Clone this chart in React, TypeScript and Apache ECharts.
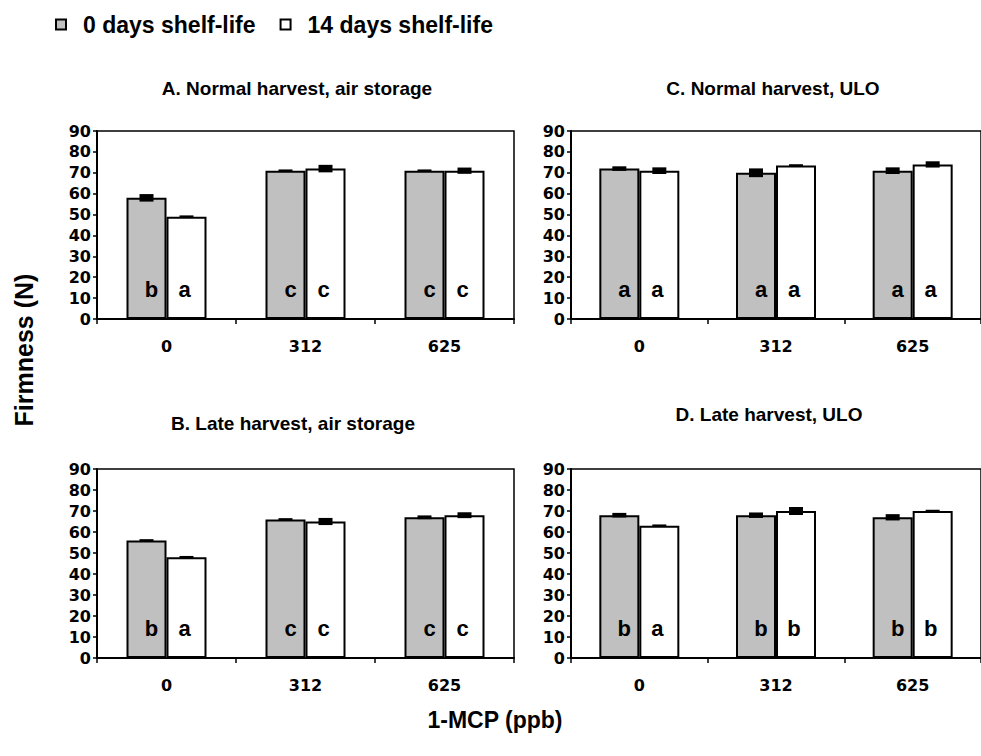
import React, { useEffect, useRef } from "react";
import * as echarts from "echarts";

const categories = ["0", "312", "625"];
const seriesNames = ["0 days shelf-life", "14 days shelf-life"];
const panelTitles = [
  "A. Normal harvest, air storage",
  "B. Late harvest, air storage",
  "C. Normal harvest, ULO",
  "D. Late harvest, ULO",
];
const yTicks = { min: 0, max: 90, interval: 10 };

// Firmness (N), values per panel
const aDay0 = [58, 71, 71];
const aDay14 = [49, 72, 71];
const bDay0 = [56, 66, 67];
const bDay14 = [48, 65, 68];
const cDay0 = [72, 70, 71];
const cDay14 = [71, 73.5, 74];
const dDay0 = [68, 68, 67];
const dDay14 = [63, 70, 70];

// standard errors
const aErr0 = [1.8, 0.3, 0.3];
const aErr14 = [0.3, 1.8, 1.5];
const bErr0 = [0.3, 0.3, 0.9];
const bErr14 = [0.3, 1.7, 1.4];
const cErr0 = [1.1, 2.1, 1.6];
const cErr14 = [1.6, 0.3, 1.5];
const dErr0 = [1.1, 1.3, 1.5];
const dErr14 = [0.3, 1.9, 0.2];

// significance letters
const aLet0 = ["b", "c", "c"];
const aLet14 = ["a", "c", "c"];
const bLet0 = ["b", "c", "c"];
const bLet14 = ["a", "c", "c"];
const cLet0 = ["a", "a", "a"];
const cLet14 = ["a", "a", "a"];
const dLet0 = ["b", "b", "b"];
const dLet14 = ["a", "b", "b"];

const xAxisTitle = "1-MCP (ppb)";
const yAxisTitle = "Firmness (N)";

const FONT = "'Liberation Sans', Arial, Helvetica, sans-serif";
const TICK_FONT = "'DejaVu Sans', 'Liberation Sans', Arial, sans-serif";

const panels = [
  { day0: aDay0, day14: aDay14, e0: aErr0, e14: aErr14, l0: aLet0, l14: aLet14 },
  { day0: bDay0, day14: bDay14, e0: bErr0, e14: bErr14, l0: bLet0, l14: bLet14 },
  { day0: cDay0, day14: cDay14, e0: cErr0, e14: cErr14, l0: cLet0, l14: cLet14 },
  { day0: dDay0, day14: dDay14, e0: dErr0, e14: dErr14, l0: dLet0, l14: dLet14 },
];

const grids = [
  { left: 97, top: 131, width: 417, height: 188 },
  { left: 97, top: 469, width: 417, height: 189 },
  { left: 571, top: 131, width: 418, height: 188 },
  { left: 571, top: 469, width: 418, height: 189 },
];
const titlePos = [
  { x: 297, y: 88 },
  { x: 293, y: 423 },
  { x: 773, y: 88 },
  { x: 769, y: 414 },
];

const BAR_W = 40;

export default function App() {
  const ref = useRef<HTMLDivElement>(null);
  useEffect(() => {
    if (!ref.current) return;
    const chart = echarts.init(ref.current, undefined, { renderer: "svg" });

    const xAxes: any[] = [];
    const yAxes: any[] = [];
    const series: any[] = [];

    panels.forEach((p, i) => {
      xAxes.push({
        type: "category",
        gridIndex: i,
        data: categories,
        axisLine: { lineStyle: { color: "#000", width: 2 } },
        axisTick: { show: true, length: 5, lineStyle: { color: "#000", width: 1.5 } },
        axisLabel: { color: "#000", fontSize: 16, fontWeight: "bold", fontFamily: TICK_FONT, margin: 19 },
        splitLine: { show: false },
      });
      yAxes.push({
        type: "value",
        gridIndex: i,
        min: yTicks.min,
        max: yTicks.max,
        interval: yTicks.interval,
        axisLine: { show: true, lineStyle: { color: "#000", width: 2 } },
        axisTick: { show: true, length: 4, lineStyle: { color: "#000", width: 1.5 } },
        axisLabel: { color: "#000", fontSize: 16, fontWeight: "bold", fontFamily: TICK_FONT, margin: 6 },
        splitLine: { show: false },
      });
      const mkLabel = (letters: string[], offX: number) => ({
        show: true,
        position: "insideBottom",
        distance: 19,
        offset: [offX, 0],
        color: "#000",
        fontSize: 22,
        fontWeight: "bold",
        fontFamily: FONT,
        formatter: (d: any) => letters[d.dataIndex],
      });
      series.push({
        name: seriesNames[0],
        type: "bar",
        xAxisIndex: i,
        yAxisIndex: i,
        data: p.day0,
        barWidth: BAR_W,
        barGap: "0%",
        itemStyle: { color: "#c0c0c0", borderColor: "#000", borderWidth: 2 },
        label: mkLabel(p.l0, 5),
      });
      series.push({
        name: seriesNames[1],
        type: "bar",
        xAxisIndex: i,
        yAxisIndex: i,
        data: p.day14,
        barWidth: BAR_W,
        barGap: "0%",
        itemStyle: { color: "#ffffff", borderColor: "#000", borderWidth: 2 },
        label: mkLabel(p.l14, -2),
      });
      const errData: any[] = [];
      p.day0.forEach((v, k) => errData.push([k, v, p.e0[k], 0]));
      p.day14.forEach((v, k) => errData.push([k, v, p.e14[k], 1]));
      series.push({
        type: "custom",
        xAxisIndex: i,
        yAxisIndex: i,
        data: errData,
        z: 10,
        silent: true,
        renderItem: (params: any, api: any) => {
          const cat = api.value(0);
          const v = api.value(1);
          const e = api.value(2);
          const which = api.value(3);
          const hi = api.coord([cat, v + e]);
          const lo = api.coord([cat, v - e]);
          const cx = hi[0] + (which === 0 ? -BAR_W / 2 : BAR_W / 2);
          const h = Math.max(lo[1] - hi[1], 2.5);
          const cy = (hi[1] + lo[1]) / 2;
          return {
            type: "rect",
            shape: { x: cx - 7, y: cy - h / 2, width: 14, height: h },
            style: { fill: "#000" },
          };
        },
      });
    });

    const graphics: any[] = panelTitles.map((t, i) => ({
      type: "text",
      x: titlePos[i].x,
      y: titlePos[i].y,
      style: {
        text: t,
        fill: "#000",
        font: `bold 19px ${FONT}`,
        textAlign: "center",
        textVerticalAlign: "middle",
      },
    }));
    graphics.push({
      type: "text",
      x: 495,
      y: 720,
      style: {
        text: xAxisTitle,
        fill: "#000",
        font: `bold 23px ${FONT}`,
        textAlign: "center",
        textVerticalAlign: "middle",
      },
    });
    graphics.push({
      type: "text",
      x: 24,
      y: 350,
      rotation: Math.PI / 2,
      style: {
        text: yAxisTitle,
        fill: "#000",
        font: `bold 25px ${FONT}`,
        textAlign: "center",
        textVerticalAlign: "middle",
      },
    });

    chart.setOption({
      animation: false,
      backgroundColor: "#ffffff",
      legend: {
        data: seriesNames,
        left: 50,
        top: 8,
        icon: "rect",
        itemWidth: 10,
        itemHeight: 10,
        itemGap: 24,
        textStyle: {
          color: "#000",
          fontSize: 23,
          fontWeight: "bold",
          fontFamily: FONT,
          padding: [0, 0, 0, 12],
        },
        selectedMode: false,
      },
      grid: grids.map((g) => ({
        ...g,
        show: true,
        borderColor: "#000",
        borderWidth: 1.5,
        backgroundColor: "transparent",
        containLabel: false,
      })),
      xAxis: xAxes,
      yAxis: yAxes,
      series,
      graphic: graphics,
    });
    return () => chart.dispose();
  }, []);
  return (
    <div
      ref={ref}
      style={{ position: "fixed", left: 0, top: 0, width: 981, height: 756, background: "#fff" }}
    />
  );
}
